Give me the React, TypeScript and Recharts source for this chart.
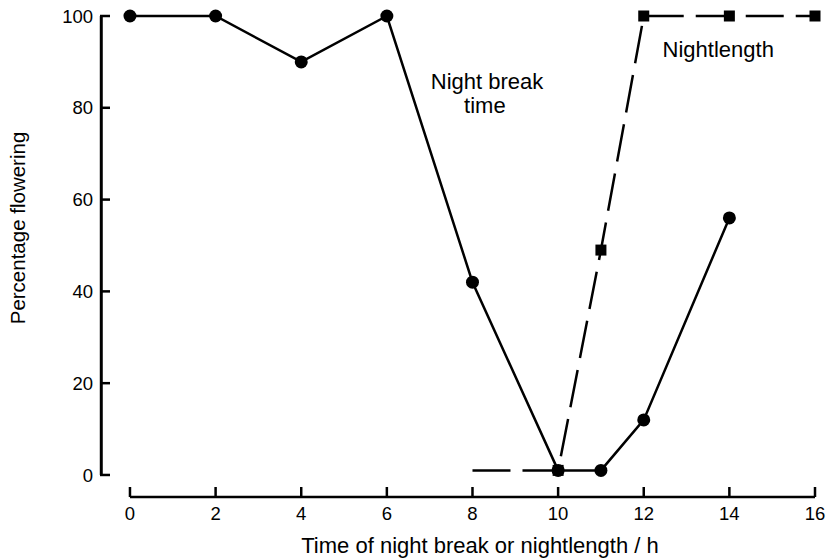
import { LineChart, Line, XAxis, YAxis, ReferenceLine, ReferenceDot, Label } from 'recharts'

// Percentage flowering against time of night break (circles) and nightlength (squares)
const breakHours = [0, 2, 4, 6, 8, 10, 11, 12, 14]
const breakFlowering = [100, 100, 90, 100, 42, 1, 1, 12, 56]

const lengthHours = [8, 10, 11, 12, 14, 16]
const lengthFlowering = [1, 1, 49, 100, 100, 100]

const xTicks = [0, 2, 4, 6, 8, 10, 12, 14, 16]
const yTicks = [0, 20, 40, 60, 80, 100]

const breakData = breakHours.map((h, i) => ({ h, v: breakFlowering[i] }))
const lengthData = lengthHours.map((h, i) => ({ h, v: lengthFlowering[i] }))

const FONT = '"Liberation Sans", Arial, Helvetica, sans-serif'

// x range starts left of 0 and y range below 0 so the axes sit detached
const X_MIN = -0.7
const Y_MIN = -4.8
const Y_MAX = 100
const PLOT_TOP = 16
const PLOT_LEFT = 100
const PLOT_BOTTOM = 497

const XTick = (props: any) => {
  const { x, y, payload } = props
  return (
    <g>
      <line x1={x} x2={x} y1={y} y2={y - 10} stroke="#000" strokeWidth={2.5} />
      <text x={x} y={y + 23} textAnchor="middle" fontSize={18.5} fontFamily={FONT} fill="#000">
        {payload.value}
      </text>
    </g>
  )
}

const YTick = (props: any) => {
  const { x, y, payload } = props
  return (
    <g>
      <line x1={x} x2={x + 10} y1={y} y2={y} stroke="#000" strokeWidth={2.5} />
      <text x={x - 7} y={y} dy="0.36em" textAnchor="end" fontSize={18.5} fontFamily={FONT} fill="#000">
        {payload.value}
      </text>
    </g>
  )
}

const SquareDot = (props: any) => {
  const { cx, cy, index } = props
  // the dashed line starts at 8 h without a marker
  if (index === 0) return <g key={index} />
  return <rect key={index} x={cx - 5.5} y={cy - 5.5} width={11} height={11} fill="#000" />
}

const note = (value: string) => ({
  value,
  position: 'center' as const,
  fontSize: 22,
  fontFamily: FONT,
  fill: '#000',
})

export default function App() {
  return (
    <div style={{ position: 'absolute', left: 0, top: 0, width: 829, height: 560 }}>
      <LineChart width={829} height={560} margin={{ top: PLOT_TOP, right: 14, left: 0, bottom: 0 }}>
        <XAxis
          type="number"
          dataKey="h"
          domain={[X_MIN, 16]}
          ticks={xTicks}
          axisLine={false}
          tickLine={false}
          tickSize={0}
          tickMargin={0}
          tick={<XTick />}
          height={560 - PLOT_BOTTOM}
        >
          <Label
            content={() => (
              <text x={480} y={553} textAnchor="middle" fontSize={22} fontFamily={FONT} fill="#000">
                Time of night break or nightlength / h
              </text>
            )}
          />
        </XAxis>
        <YAxis
          type="number"
          dataKey="v"
          domain={[Y_MIN, Y_MAX]}
          ticks={yTicks}
          axisLine={false}
          tickLine={false}
          tickSize={0}
          tickMargin={0}
          tick={<YTick />}
          width={PLOT_LEFT}
        >
          <Label
            content={() => (
              <text
                x={25}
                y={228}
                transform="rotate(-90 25 228)"
                textAnchor="middle"
                fontSize={20.5}
                fontFamily={FONT}
                fill="#000"
              >
                Percentage flowering
              </text>
            )}
          />
        </YAxis>

        {/* detached axis lines: x from 0 to 16, y from 0 to 100 */}
        <ReferenceLine segment={[{ x: 0, y: Y_MIN }, { x: 16, y: Y_MIN }]} stroke="#000" strokeWidth={2.5} ifOverflow="visible" />
        <ReferenceLine segment={[{ x: X_MIN + 0.03, y: Y_MAX }, { x: X_MIN + 0.03, y: 0 }]} stroke="#000" strokeWidth={3} ifOverflow="visible" />

        <Line
          data={lengthData}
          dataKey="v"
          stroke="#000"
          strokeWidth={2.5}
          strokeDasharray="38 12"
          dot={<SquareDot />}
          isAnimationActive={false}
        />
        <Line
          data={breakData}
          dataKey="v"
          stroke="#000"
          strokeWidth={2.5}
          dot={{ r: 6.5, fill: '#000', stroke: '#000', strokeWidth: 0 }}
          isAnimationActive={false}
        />

        <ReferenceDot x={8.34} y={85.7} r={0} fill="none" stroke="none" label={note('Night break')} />
        <ReferenceDot x={8.29} y={80.5} r={0} fill="none" stroke="none" label={note('time')} />
        <ReferenceDot x={13.74} y={92.7} r={0} fill="none" stroke="none" label={note('Nightlength')} />
      </LineChart>
    </div>
  )
}
